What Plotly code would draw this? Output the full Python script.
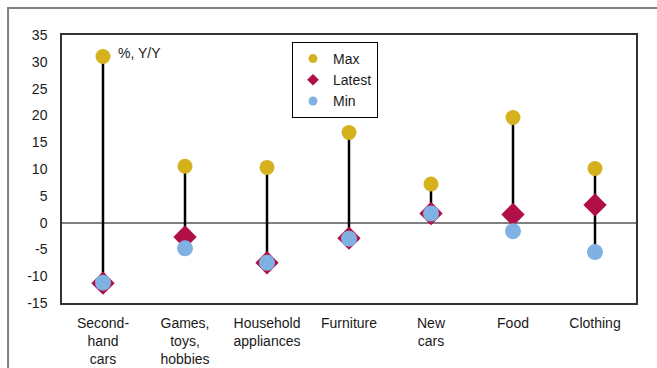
import plotly.graph_objects as go

categories = ["Second-<br>hand<br>cars", "Games,<br>toys,<br>hobbies", "Household<br>appliances",
              "Furniture", "New<br>cars", "Food", "Clothing"]
max_vals = [31.0, 10.5, 10.3, 16.8, 7.2, 19.6, 10.1]
latest_vals = [-11.3, -2.7, -7.5, -2.9, 1.7, 1.5, 3.3]
min_vals = [-11.2, -4.8, -7.5, -3.0, 1.7, -1.6, -5.5]
y_ticks = list(range(-15, 40, 5))
y_tick_text = [str(v) for v in y_ticks]

xs = list(range(len(categories)))
FONT = "Arial, Liberation Sans, sans-serif"
GOLD = "#D6B11E"
RED = "#B00F48"
BLUE = "#7FB2E3"

lx, ly = [], []
for i in xs:
    lo = min(min_vals[i], latest_vals[i])
    lx += [i, i, None]
    ly += [max_vals[i], lo, None]

fig = go.Figure()
fig.add_trace(go.Scatter(x=lx, y=ly, mode="lines", line=dict(color="black", width=2.5),
                         showlegend=False, hoverinfo="skip"))
fig.add_trace(go.Scatter(x=xs, y=latest_vals, mode="markers", showlegend=False,
                         marker=dict(symbol="diamond", size=18, color=RED)))
fig.add_trace(go.Scatter(x=xs, y=max_vals, mode="markers", showlegend=False,
                         marker=dict(symbol="circle", size=15, color=GOLD)))
fig.add_trace(go.Scatter(x=xs, y=min_vals, mode="markers", showlegend=False,
                         marker=dict(symbol="circle", size=16, color=BLUE)))
# legend entries
fig.add_trace(go.Scatter(x=[None], y=[None], mode="markers", name="Max",
                         marker=dict(symbol="circle", size=9, color=GOLD)))
fig.add_trace(go.Scatter(x=[None], y=[None], mode="markers", name="Latest",
                         marker=dict(symbol="diamond", size=9, color=RED)))
fig.add_trace(go.Scatter(x=[None], y=[None], mode="markers", name="Min",
                         marker=dict(symbol="circle", size=9, color=BLUE)))

fig.update_layout(
    width=657, height=368,
    margin=dict(l=62, r=21, t=35, b=65, autoexpand=False),
    paper_bgcolor="white", plot_bgcolor="white",
    font=dict(family=FONT, size=14, color="#1a1a1a"),
    legend=dict(x=0.4007, y=0.974, xanchor="left", yanchor="top",
                bordercolor="black", borderwidth=1, bgcolor="white",
                font=dict(size=14), itemwidth=30, tracegroupgap=0),
    showlegend=True,
    annotations=[dict(x=0.094, y=0.933, xref="paper", yref="paper", text="%, Y/Y",
                      showarrow=False, xanchor="left", yanchor="middle",
                      font=dict(size=14))],
    shapes=[dict(type="rect", xref="paper", yref="paper", x0=-0.094, x1=1.2,
                 y0=-0.4, y1=1.1007, line=dict(color="#808080", width=2), layer="below")],
)
fig.update_xaxes(range=[-0.5, 6.5], tickvals=xs, ticktext=categories, showgrid=False,
                 zeroline=False, showline=True, mirror=True, linecolor="#333333",
                 linewidth=1.5, ticks="", tickfont=dict(size=14), automargin=False,
                 ticklabelstandoff=6)
fig.update_yaxes(range=[-15, 35], tickvals=y_ticks, ticktext=y_tick_text, showgrid=False,
                 zeroline=True, zerolinecolor="#808080", zerolinewidth=2, showline=True,
                 mirror=True, linecolor="#333333", linewidth=1.5, ticks="",
                 tickfont=dict(size=14), automargin=False, ticklabelstandoff=10)

fig.write_html("out.html")
